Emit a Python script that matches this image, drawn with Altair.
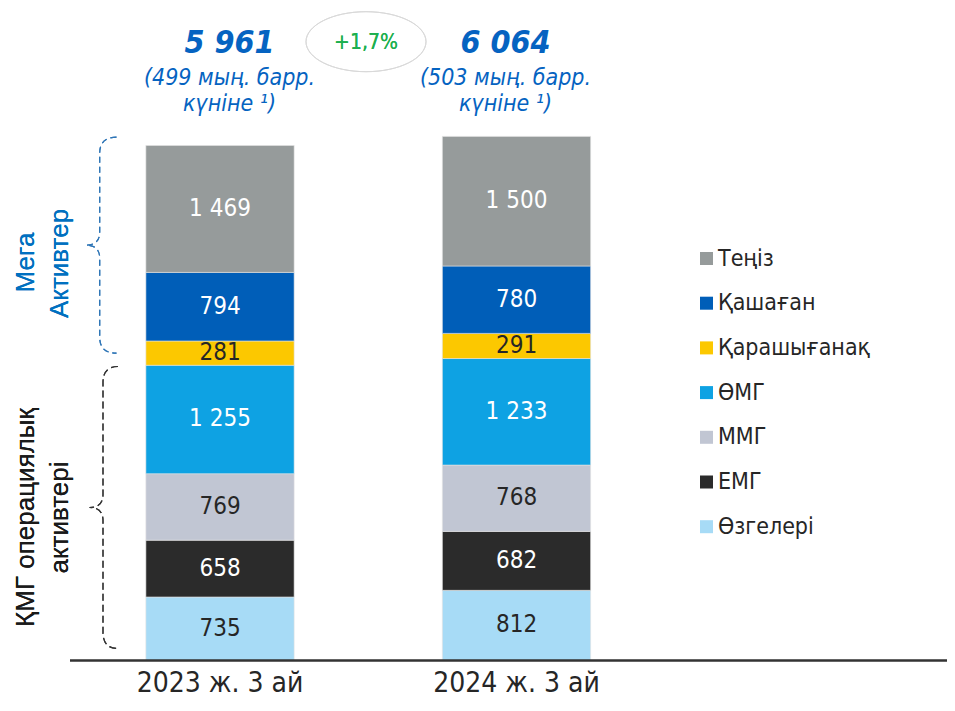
import altair as alt
import pandas as pd

# ---------------- data ----------------
periods = ["2023 ж. 3 ай", "2024 ж. 3 ай"]
assets = ["Теңіз", "Қашаған", "Қарашығанақ", "ӨМГ", "ММГ", "ЕМГ", "Өзгелері"]  # legend order (top -> bottom)
colors = ["#969B9B", "#005EB8", "#FCC800", "#0EA2E3", "#C1C6D3", "#2B2B2B", "#A7DBF6"]
label_colors = ["white", "white", "#262626", "white", "#262626", "white", "#262626"]
values_2023 = [1469, 794, 281, 1255, 769, 658, 735]
values_2024 = [1500, 780, 291, 1233, 768, 682, 812]
totals = [5961, 6064]
per_day = ["(499 мың. барр.", "(503 мың. барр."]
per_day_2 = ["күніне ¹)", "күніне ¹)"]
change_label = "+1,7%"
group_top = ["Мега", "Активтер"]
group_bottom = ["ҚМГ операциялық", "активтері"]

def fmt(v):
    return f"{v:,}".replace(",", " ")

rows = []
for period, vals in zip(periods, [values_2023, values_2024]):
    base = 0
    # stack from bottom (last asset) to top (first asset)
    for a, v, lc in reversed(list(zip(assets, vals, label_colors))):
        rows.append(dict(period=period, asset=a, v=v, y0=base, y1=base + v,
                         mid=base + v / 2, lbl=fmt(v), lc=lc))
        base += v
bars_df = pd.DataFrame(rows)

top_df = pd.DataFrame(dict(period=periods, total=[fmt(t) for t in totals],
                           l2=per_day, l3=per_day_2))

# ---------------- layout ----------------
W, H = 939, 690
K = 0.0864          # px per unit
BASE = 652.5        # baseline pixel (plot coords)
yscale = alt.Scale(domain=[-(H - BASE) / K, BASE / K], nice=False, zero=False)
xscale = alt.Scale(domain=periods, range=[63.75, 656.75], paddingInner=0.5, paddingOuter=0.25)

SANS = "DejaVu Sans Condensed, DejaVu Sans"
ARIAL = "Liberation Sans, Arial"
BLUE = "#0563C1"

X = alt.X("period:N", scale=xscale, axis=None)

bars = alt.Chart(bars_df).mark_bar(stroke="#e3e3e3", strokeWidth=0.6).encode(
    x=X,
    y=alt.Y("y0:Q", scale=yscale, axis=None),
    y2="y1:Q",
    color=alt.Color("asset:N", scale=alt.Scale(domain=assets, range=colors),
                    legend=alt.Legend(orient="none", legendX=687, legendY=239, title=None,
                                      symbolType="square", symbolSize=169, symbolStrokeWidth=0,
                                      symbolOpacity=1, labelFont=SANS, labelFontSize=23,
                                      labelColor="#262626", rowPadding=20.7, labelOffset=0,
                                      padding=0)),
)

values = alt.Chart(bars_df).mark_text(font=SANS, fontSize=24, baseline="middle").encode(
    x=X, y=alt.Y("mid:Q", scale=yscale), text="lbl:N",
    color=alt.Color("lc:N", scale=None),
)

axis_line = alt.Chart(top_df).mark_rule(color="#333333", strokeWidth=2).encode(
    x=alt.value(62), x2=alt.value(W), y=alt.datum(0, scale=yscale)
)

xlabels = alt.Chart(top_df).mark_text(font=SANS, fontSize=28, color="#262626",
                                       baseline="alphabetic").encode(
    x=X, y=alt.value(684), text="period:N"
)

top_layers = []
for period, dx in zip(periods, [9.5, -11]):
    src = alt.Chart(top_df).transform_filter(alt.datum.period == period)
    top_layers.append(src.mark_text(font=SANS, fontSize=32, fontWeight="bold", fontStyle="italic",
                                    color=BLUE, baseline="alphabetic", dx=dx).encode(
        x=X, y=alt.value(45), text="total:N"))
    top_layers.append(src.mark_text(font=SANS, fontSize=23, fontStyle="italic",
                                    color=BLUE, baseline="alphabetic", dx=dx).encode(
        x=X, y=alt.value(77), text="l2:N"))
    top_layers.append(src.mark_text(font=SANS, fontSize=23, fontStyle="italic",
                                    color=BLUE, baseline="alphabetic", dx=dx).encode(
        x=X, y=alt.value(102.5), text="l3:N"))

ELLIPSE = ("M -1 0 C -1 -0.2761 -0.5523 -0.5 0 -0.5 C 0.5523 -0.5 1 -0.2761 1 0 "
           "C 1 0.2761 0.5523 0.5 0 0.5 C -0.5523 0.5 -1 0.2761 -1 0 Z")
ellipse = alt.Chart(top_df).mark_point(shape=ELLIPSE, size=120 * 120, filled=False,
                                       stroke="#D9D9D9", strokeWidth=1, opacity=1).encode(
    x=alt.value(358), y=alt.value(33.7)
)
change = alt.Chart(top_df).mark_text(font=SANS, fontSize=21, color="#1DB04F",
                                     baseline="middle", text=change_label).encode(
    x=alt.value(358), y=alt.value(35)
)

BRACE_BLUE = ("M 0.1556 -1 Q 0 -1 0 -0.8519 L 0 -0.1204 Q 0 0 -0.1269 0 "
              "Q 0 0 0 0.1204 L 0 0.8519 Q 0 1 0.1556 1")
BRACE_BLACK = ("M 0.1064 -1 Q 0 -1 0 -0.8865 L 0 -0.0922 Q 0 0 -0.0957 0 "
               "Q 0 0 0 0.0922 L 0 0.8865 Q 0 1 0.1064 1")
brace1 = alt.Chart(top_df).mark_point(shape=BRACE_BLUE, size=216 * 216, filled=False,
                                      stroke="#2E75B6", strokeWidth=1.2, strokeDash=[6, 4],
                                      opacity=1).encode(x=alt.value(91.7), y=alt.value(237.2))
brace2 = alt.Chart(top_df).mark_point(shape=BRACE_BLACK, size=282 * 282, filled=False,
                                      stroke="#333333", strokeWidth=1.2, strokeDash=[7, 4],
                                      opacity=1).encode(x=alt.value(95), y=alt.value(499.5))

def rot_text(txt, x, y, color):
    return alt.Chart(top_df).mark_text(font=ARIAL, fontSize=26, color=color, angle=270,
                                       align="center", baseline="alphabetic", text=txt).encode(
        x=alt.value(x), y=alt.value(y))

rot = [
    rot_text(group_top[0], 26.3, 254.5, "#0070C0"),
    rot_text(group_top[1], 60.3, 255.5, "#0070C0"),
    rot_text(group_bottom[0], 26.0, 509.5, "#1A1A1A"),
    rot_text(group_bottom[1], 60.0, 509.5, "#1A1A1A"),
]

chart = alt.layer(bars, values, axis_line, xlabels, *top_layers, ellipse, change,
                  brace1, brace2, *rot).properties(
    width=W, height=H, padding=0,
    autosize=alt.AutoSizeParams(type="none"),
).configure_view(stroke=None)

chart.save("out.html", embed_options={"renderer": "svg", "actions": False})
